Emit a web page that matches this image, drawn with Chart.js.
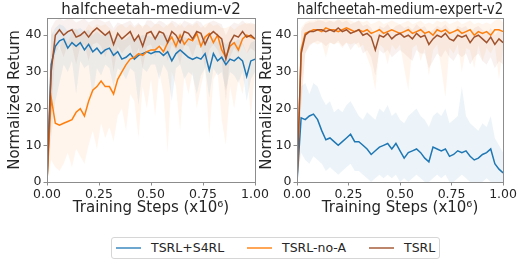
<!DOCTYPE html>
<html>
<head>
<meta charset="utf-8">
<script src="https://cdn.jsdelivr.net/npm/chart.js@4.4.1/dist/chart.umd.min.js"></script>
<style>
  html, body { margin: 0; padding: 0; background: #fff; }
  body { width: 519px; height: 262px; position: relative; overflow: hidden; font-family: 'DejaVu Sans', sans-serif; }
  canvas { position: absolute; top: 0; }
  #legend { position: absolute; left: 111px; top: 237px; width: 327px; height: 20px; border: 1px solid #d6d6d6; border-radius: 3px; }
  #legend .item { position: absolute; top: 0; height: 20px; }
  #legend .swatch { position: absolute; top: 9px; width: 25px; height: 2px; }
  #legend .label { position: absolute; left: 35px; top: 2px; font-size: 12.5px; color: #262626; white-space: nowrap; }
</style>
</head>
<body>
<canvas id="chart-medium" width="275" height="226" style="left:0"></canvas>
<canvas id="chart-medium-expert" width="264" height="226" style="left:255px"></canvas>
<div id="legend"></div>
<script>
const steps = [0, 0.02, 0.04, 0.06, 0.08, 0.1, 0.12, 0.14, 0.16, 0.18, 0.2, 0.22, 0.24, 0.26, 0.28, 0.3, 0.32, 0.34, 0.36, 0.38, 0.4,
  0.42, 0.44, 0.46, 0.48, 0.5, 0.52, 0.54, 0.56, 0.58, 0.6, 0.62, 0.64, 0.66, 0.68, 0.7, 0.72, 0.74, 0.76, 0.78, 0.8,
  0.82, 0.84, 0.86, 0.88, 0.9, 0.92, 0.94, 0.96, 0.98, 1];
const xTicks = [0, 0.25, 0.5, 0.75, 1];
const yTicks = [0, 10, 20, 30, 40];
const seriesNames = ['TSRL+S4RL', 'TSRL-no-A', 'TSRL'];
const panelTitles = ['halfcheetah-medium-v2', 'halfcheetah-medium-expert-v2'];

// halfcheetah-medium-v2
const mediumS4rl = [0, 32, 37, 38.5, 39, 36.5, 38, 37, 38, 36, 37.5, 35.5, 36.5, 35, 36, 36.5, 34.5, 35.5, 33.5, 34, 35,
  33.5, 34.5, 35, 35.5, 35, 35.5, 35.5, 34.5, 35.5, 33, 35, 36, 35, 34, 33.4, 34, 33.5, 35, 30.5, 35,
  33, 34, 32, 33.5, 33, 34, 33, 28.8, 33, 33.5];
const mediumS4rlLow = [0, 12, 22, 27, 32, 30, 33, 24, 33, 31, 32, 23, 31, 29, 32, 31, 26, 31, 30, 28, 31,
  30, 21, 31, 30, 32, 32, 28, 32, 30, 22, 31, 32, 28, 30, 29, 24, 29, 31, 23, 31,
  29, 30, 25, 30, 29, 27, 30, 22, 28, 30];
const mediumS4rlHigh = [2, 40, 42, 43, 42.5, 41, 42, 41.5, 42, 41, 41.5, 40, 41, 40, 40.5, 41, 39, 40, 38.5, 39, 40,
  38.5, 39.5, 40, 40, 39.5, 40, 40, 40.5, 40, 38, 39.5, 40.5, 39.5, 39, 38, 39, 38.5, 40, 38, 39.5,
  38, 39, 37.5, 38.5, 38, 39, 38, 35, 38, 38.5];

const mediumNoA = [0, 23, 16, 15.5, 16, 16.5, 17, 19, 20, 18, 22, 25, 26, 27.5, 26, 26, 24, 28, 30, 32, 33.5,
  34, 35, 34.5, 35.5, 36, 36, 37, 35.5, 38, 39.5, 37, 40, 37.5, 39, 38.5, 40.5, 37, 39.5, 40.5, 38,
  40, 36, 34, 37, 38, 36, 39, 40, 39.5, 39];
const mediumNoALow = [0, 6, 4, 3, 5, 8, 4, 9, 7, 5, 10, 14, 9, 16, 12, 15, 11, 18, 20, 14, 24,
  22, 12, 26, 20, 28, 18, 30, 24, 8, 30, 26, 14, 29, 24, 30, 20, 26, 31, 12, 28,
  30, 17, 10, 26, 20, 28, 24, 31, 18, 30];
const mediumNoAHigh = [5, 42, 38, 36, 40, 38, 41, 42, 40, 41, 43, 42, 43, 42.5, 43, 42, 41, 42.5, 43, 42, 43,
  42, 43, 42.5, 43, 42, 43, 43, 42, 43, 43.5, 42, 43.5, 42, 43, 42.5, 43.5, 42, 43, 43.5, 42.5,
  43, 42, 42, 42.5, 41.5, 42.5, 43, 43.5, 43, 43];

const mediumTsrl = [0, 30, 40, 41.5, 40, 41, 41.5, 39.5, 40, 41, 39.5, 41, 42, 41, 40, 41, 37.5, 40.5, 39, 40, 41,
  38.5, 40, 37, 40.5, 41, 39, 41, 40.5, 38, 41, 40, 38, 41, 40.5, 39, 41, 40.5, 37.5, 40, 41,
  40, 39, 33.5, 38, 40, 39.5, 41, 39.5, 40, 39];
const mediumTsrlLow = [0, 18, 35, 37, 34, 37.5, 37, 32, 37, 37.5, 33, 37.5, 38, 37, 34, 37.5, 30, 37, 35, 36.5, 37.5,
  33, 36.5, 31, 37, 37.5, 34, 37.5, 37, 33, 37.5, 36, 32, 37.5, 37, 34, 37.5, 37, 31, 36, 37.5,
  36, 33, 22, 34, 36.5, 35, 37.5, 35, 36.5, 35.5];
const mediumTsrlHigh = [8, 42, 44, 44.5, 44, 44.5, 44.5, 43.5, 44, 44.5, 43.5, 44, 44.5, 44, 43.5, 44, 42, 43.5, 43, 43.5, 44,
  42.5, 43.5, 42, 44, 44, 43, 44, 43.5, 42.5, 44, 43.5, 42.5, 44, 43.5, 43, 44, 43.5, 42, 43.5, 44,
  43.5, 43, 40, 42.5, 43.5, 43, 44, 43, 43.5, 43];

// halfcheetah-medium-expert-v2
const expertS4rl = [0, 17.5, 17, 18, 18.5, 17, 14, 11.5, 12, 11, 10, 11, 12, 13, 11, 11, 10, 9, 7.5, 8.5, 9.5,
  10, 10.5, 9, 10.5, 8.5, 6.5, 8, 8.5, 9, 8, 6.5, 5.5, 9.5, 9, 8.5, 9, 7, 7.5, 8.5, 8,
  8.5, 7, 6, 6.5, 7.5, 8, 9, 5, 3.5, 2.5];
const expertS4rlLow = [0, 8, 6, 5, 7, 6, 5, 3, 4, 3, 2, 3, 4, 5, 3, 3, 2, 1, 0, 1, 2,
  1, 2, 1, 2, 0, 1, 0, 1, 2, 1, 0, 0, 1, 2, 1, 2, 0, 0, 1, 2,
  1, 0, 0, 0, 0, 1, 0, 0, 0, 0];
const expertS4rlHigh = [2, 26, 27, 24, 27, 26, 23, 21, 22, 19, 20, 19, 21, 22, 20, 18, 17, 19, 18, 17, 20,
  19, 21, 18, 19, 17, 16, 18, 19, 20, 18, 17, 15, 18, 19, 18, 20, 16, 17, 18, 26,
  18, 16, 15, 14, 16, 15, 18, 12, 10, 8];

const expertNoA = [0, 36, 40.5, 41, 41.5, 41.5, 41, 42, 41.5, 41.5, 41, 41.5, 42, 41.5, 41, 41.5, 41, 41.5, 40.5, 41, 41.5,
  40.5, 41, 41.5, 41, 40.5, 41, 41.5, 40.5, 41, 41.5, 40.5, 41, 40, 41.5, 41, 41.5, 40.5, 41, 41.5, 40.5,
  41, 41.5, 40, 41, 40.5, 41, 40, 41.5, 41.5, 41];
const expertNoALow = [0, 22, 35, 37.5, 38, 37.5, 38, 34, 38, 37.5, 38, 36.5, 38, 37.5, 38, 36.5, 37.5, 34, 31, 25, 37.5,
  36.5, 32, 37.5, 36, 37.5, 31, 25, 36.5, 37.5, 33, 36.5, 29, 36, 37.5, 31, 23, 36.5, 35, 37.5, 30,
  36.5, 36, 31, 37.5, 33, 36.5, 35, 37.5, 28, 36.5];
const expertNoAHigh = [6, 42, 43.5, 44, 44, 44.5, 44, 44.5, 44, 44, 44, 44.5, 44.5, 44, 43.5, 44, 43.5, 44, 43, 43.5, 44,
  43, 43.5, 44, 43.5, 43, 43.5, 44, 43, 43.5, 44, 43, 43.5, 43, 44, 43.5, 44, 43, 43.5, 44, 43,
  43.5, 44, 43, 43.5, 43, 43.5, 43, 44, 44.5, 43.5];

const expertTsrl = [0, 35, 40, 41, 41, 41.5, 41.5, 41, 41.5, 41, 42, 41, 41.5, 40.5, 41, 41.5, 40, 40.5, 39.5, 36, 40,
  39.5, 40.5, 39, 40, 40.5, 39.5, 40, 39, 40.5, 39.5, 40, 37.5, 39, 40, 39.5, 40.5, 39, 38.5, 40, 39.5,
  40, 38, 39.5, 40, 39, 38, 39.5, 37.5, 39, 38];
const expertTsrlLow = [0, 20, 35, 37, 38, 38.5, 38, 37, 38, 37.5, 38.5, 37, 38, 36, 37.5, 38, 35, 36, 34, 29, 36,
  35, 36, 34, 35, 36, 35, 34, 33, 36, 35, 35, 31, 33, 35, 34, 36, 34, 33, 35, 34,
  35, 32, 34, 35, 33, 32, 34, 31, 33, 32];
const expertTsrlHigh = [5, 41, 43, 43.5, 43.5, 44, 44, 43.5, 44, 43.5, 44.5, 43.5, 44, 43, 43.5, 44, 42.5, 43, 42, 40, 42.5,
  42, 43, 41.5, 42.5, 43, 42, 42.5, 41.5, 43, 42, 42.5, 40.5, 41.5, 42.5, 42, 43, 41.5, 41, 42.5, 42,
  42.5, 40.5, 42, 42.5, 41.5, 40.5, 42, 40, 41.5, 40.5];

const seriesColors = ['#1f77b4', '#ff7f0e', '#a0522d'];
const bandColors = ['rgba(31, 119, 180, 0.08)', 'rgba(255, 127, 14, 0.08)', 'rgba(160, 82, 45, 0.08)'];
const legendColors = ['rgba(31, 119, 180, 0.65)', 'rgba(255, 127, 14, 0.7)', 'rgba(160, 82, 45, 0.7)'];
const lineOrder = [2, 1, 0];

const FONT = "'DejaVu Sans', sans-serif";
const AXIS_COLOR = '#8c8c8c';
const TEXT_COLOR = '#262626';

const toPoints = (values) => values.map((v, i) => ({ x: steps[i], y: v }));

const frameBox = {
  id: 'frameBox',
  afterDraw(chart) {
    const { ctx, chartArea: a } = chart;
    ctx.save();
    ctx.strokeStyle = AXIS_COLOR;
    ctx.lineWidth = 1;
    ctx.strokeRect(Math.round(a.left) + 0.5, Math.round(a.top) + 0.5, Math.round(a.right - a.left), Math.round(a.bottom - a.top));
    ctx.restore();
  }
};

function buildDatasets(series) {
  const datasets = series.map((s, idx) => ({
    label: seriesNames[idx],
    data: toPoints(s.mean),
    borderColor: seriesColors[idx],
    borderWidth: 1.5,
    pointRadius: 0,
    fill: false,
    tension: 0,
    order: lineOrder[idx]
  }));

  series.forEach((s, idx) => {
    const lowIndex = datasets.length;
    datasets.push({
      label: seriesNames[idx] + ' low',
      data: toPoints(s.low),
      borderWidth: 0,
      borderColor: 'transparent',
      pointRadius: 0,
      fill: false,
      order: 5
    });
    datasets.push({
      label: seriesNames[idx] + ' high',
      data: toPoints(s.high),
      borderWidth: 0,
      borderColor: 'transparent',
      backgroundColor: bandColors[idx],
      pointRadius: 0,
      fill: { target: lowIndex },
      order: 5
    });
  });
  return datasets;
}

function renderPanel(id, title, series, layout) {
  const canvas = document.getElementById(id);
  if (!canvas) return;

  new Chart(canvas, {
    type: 'line',
    data: { datasets: buildDatasets(series) },
    plugins: [frameBox],
    options: {
      responsive: false,
      animation: false,
      devicePixelRatio: 1,
      layout: { padding: { left: 0, right: layout.padRight, top: 0, bottom: 0 } },
      plugins: {
        legend: { display: false },
        tooltip: { enabled: false },
        title: {
          display: true,
          fullSize: false,
          text: title,
          color: TEXT_COLOR,
          font: { family: FONT, size: 15, weight: 'normal', lineHeight: 1 },
          padding: { top: 3, bottom: 0 }
        }
      },
      scales: {
        x: {
          type: 'linear',
          min: 0,
          max: 1,
          afterFit: (s) => { s.height = 44; },
          afterBuildTicks: (s) => { s.ticks = xTicks.map((v) => ({ value: v })); },
          ticks: {
            color: TEXT_COLOR,
            font: { family: FONT, size: 12.5 },
            padding: 2,
            maxRotation: 0,
            callback: (v) => Number(v).toFixed(2)
          },
          grid: { display: true, drawOnChartArea: false, drawTicks: true, tickLength: 3.5, color: AXIS_COLOR },
          border: { display: true, color: AXIS_COLOR },
          title: {
            display: true,
            text: 'Training Steps (x10\u2076)',
            color: TEXT_COLOR,
            font: { family: FONT, size: 15 },
            padding: { top: 0, bottom: 9 }
          }
        },
        y: {
          min: 0,
          max: 44.7,
          afterFit: (s) => { s.width = layout.axisWidth; },
          afterBuildTicks: (s) => { s.ticks = yTicks.map((v) => ({ value: v })); },
          ticks: {
            color: TEXT_COLOR,
            font: { family: FONT, size: 12.5 },
            padding: 2
          },
          grid: { display: true, drawOnChartArea: false, drawTicks: true, tickLength: 3.5, color: AXIS_COLOR },
          border: { display: true, color: AXIS_COLOR },
          title: {
            display: true,
            text: 'Normalized Return',
            color: TEXT_COLOR,
            font: { family: FONT, size: 15 },
            padding: { top: layout.titlePad, bottom: 0 }
          }
        }
      }
    }
  });
}

function renderLegend() {
  const legend = document.getElementById('legend');
  const offsets = [4, 135, 257];
  legend.innerHTML = seriesNames
    .map((name, i) => `
      <div class="item" style="left:${offsets[i]}px">
        <span class="swatch" style="background:${legendColors[i]}"></span>
        <span class="label">${name}</span>
      </div>`)
    .join('');
}

renderPanel('chart-medium', panelTitles[0], [
  { mean: mediumS4rl, low: mediumS4rlLow, high: mediumS4rlHigh },
  { mean: mediumNoA, low: mediumNoALow, high: mediumNoAHigh },
  { mean: mediumTsrl, low: mediumTsrlLow, high: mediumTsrlHigh }
], { padRight: 20, axisWidth: 47, titlePad: 6 });

renderPanel('chart-medium-expert', panelTitles[1], [
  { mean: expertS4rl, low: expertS4rlLow, high: expertS4rlHigh },
  { mean: expertNoA, low: expertNoALow, high: expertNoAHigh },
  { mean: expertTsrl, low: expertTsrlLow, high: expertTsrlHigh }
], { padRight: 13, axisWidth: 42, titlePad: 3 });

renderLegend();
</script>
</body>
</html>
